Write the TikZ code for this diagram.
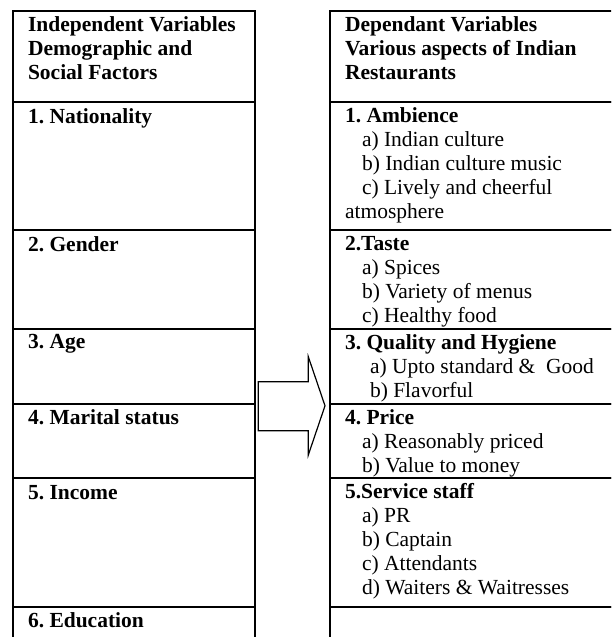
\documentclass[tikz,border=0pt]{standalone}
\usepackage{fontspec}
\setmainfont{Liberation Serif}
\frenchspacing
\begin{document}
\begin{tikzpicture}[x=1pt,y=-1pt,
  cell/.style={draw, line width=2pt, rectangle, inner sep=0pt, outer sep=0pt, anchor=north west},
  txt/.style={anchor=base west, inner sep=0pt, outer sep=0pt, font=\fontsize{21.5}{24}\selectfont\frenchspacing},
  hd/.style={txt, font=\fontsize{21.5}{24}\selectfont\bfseries\frenchspacing},
  bigarrow/.style={draw, line width=1.2pt, line join=miter}]
\useasboundingbox (0,0) rectangle (611,637);
\clip (0,0) rectangle (611,637);
% left column cells
\node[cell, minimum width=242pt, minimum height=90.5pt] (L0) at (13,11) {};
\node[cell, minimum width=242pt, minimum height=128.5pt] (L1) at (13,101.5) {};
\node[cell, minimum width=242pt, minimum height=99pt] (L2) at (13,230) {};
\node[cell, minimum width=242pt, minimum height=75pt] (L3) at (13,329) {};
\node[cell, minimum width=242pt, minimum height=74pt] (L4) at (13,404) {};
\node[cell, minimum width=242pt, minimum height=128.5pt] (L5) at (13,478) {};
\node[cell, minimum width=242pt, minimum height=45pt] (L6) at (13,606.5) {};
% right column cells
\node[cell, minimum width=300pt, minimum height=90.5pt] (R0) at (330,11) {};
\node[cell, minimum width=300pt, minimum height=128.5pt] (R1) at (330,101.5) {};
\node[cell, minimum width=300pt, minimum height=99pt] (R2) at (330,230) {};
\node[cell, minimum width=300pt, minimum height=75pt] (R3) at (330,329) {};
\node[cell, minimum width=300pt, minimum height=74pt] (R4) at (330,404) {};
\node[cell, minimum width=300pt, minimum height=128.5pt] (R5) at (330,478) {};
\node[cell, minimum width=300pt, minimum height=45pt] (R6) at (330,606.5) {};
% left texts
\node[hd] (l0a) at (28,31.5) {Independent Variables};
\node[hd] (l0b) at (28,55.5) {Demographic and};
\node[hd] (l0c) at (28,79.5) {Social Factors};
\node[hd] (l1) at (28,123) {1. Nationality};
\node[hd] (l2) at (28,251) {2. Gender};
\node[hd] (l3) at (28,348.5) {3. Age};
\node[hd] (l4) at (28,424.5) {4. Marital status};
\node[hd] (l5) at (28,499) {5. Income};
\node[hd] (l6) at (28,627) {6. Education};
% right texts
\node[hd] (r0a) at (345,31.5) {Dependant Variables};
\node[hd] (r0b) at (345,55.5) {Various aspects of Indian};
\node[hd] (r0c) at (345,79.5) {Restaurants};
\node[hd] (r1) at (345,122.5) {1. Ambience};
\node[txt] (r1a) at (362,146.5) {a) Indian culture};
\node[txt] (r1b) at (362,170.5) {b) Indian culture music};
\node[txt] (r1c) at (362,194.5) {c) Lively and cheerful};
\node[txt] (r1d) at (345,218.5) {atmosphere};
\node[hd] (r2) at (345,250.5) {2.Taste};
\node[txt] (r2a) at (362,274.5) {a) Spices};
\node[txt] (r2b) at (362,298.5) {b) Variety of menus};
\node[txt] (r2c) at (362,322.5) {c) Healthy food};
\node[hd] (r3) at (345,349.5) {3. Quality and Hygiene};
\node[txt] (r3a) at (370,373.5) {a) Upto standard \&\ \ Good};
\node[txt] (r3b) at (370,397.5) {b) Flavorful};
\node[hd] (r4) at (345,424.5) {4. Price};
\node[txt] (r4a) at (362,448.5) {a) Reasonably priced};
\node[txt] (r4b) at (362,472.5) {b) Value to money};
\node[hd] (r5) at (345,498.5) {5.Service staff};
\node[txt] (r5a) at (362,522.5) {a) PR};
\node[txt] (r5b) at (362,546.5) {b) Captain};
\node[txt] (r5c) at (362,570.5) {c) Attendants};
\node[txt] (r5d) at (362,594.5) {d) Waiters \& Waitresses};
% block arrow
\draw[bigarrow] (258.3,381.7) -- (308.3,381.7) -- (308.3,356.7) -- (325,405.8)
  -- (308.3,455) -- (308.3,430.7) -- (258.3,430.7) -- cycle;
\end{tikzpicture}
\end{document}
